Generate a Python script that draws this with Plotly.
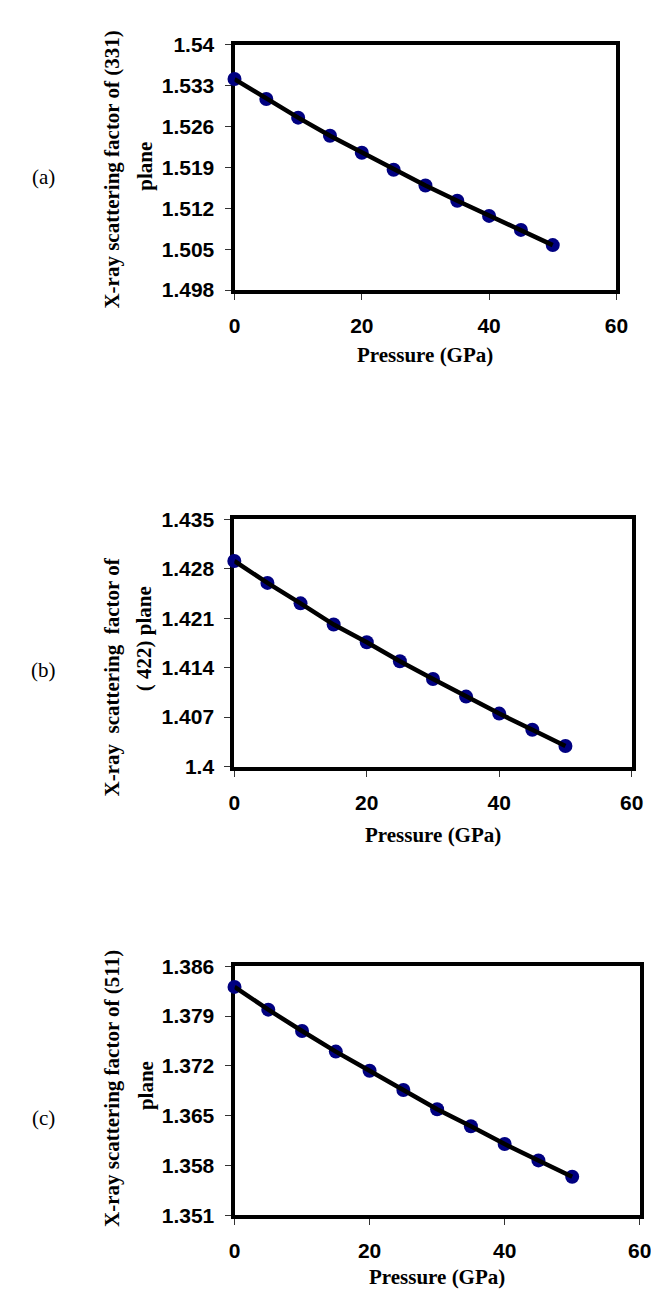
import plotly.graph_objects as go

W, H = 659, 1300

pressure = [0, 5, 10, 15, 20, 25, 30, 35, 40, 45, 50]
f_331 = [1.5341, 1.5307, 1.5275, 1.5244, 1.5215, 1.5186, 1.5159, 1.5133, 1.5107, 1.5083, 1.5057]
f_422 = [1.4291, 1.4260, 1.4231, 1.4201, 1.4176, 1.4149, 1.4124, 1.4099, 1.4075, 1.4052, 1.4029]
f_511 = [1.3831, 1.3799, 1.3769, 1.3740, 1.3713, 1.3686, 1.3659, 1.3635, 1.3610, 1.3587, 1.3564]

x_ticks = [0, 20, 40, 60]
y_ticks_a = [1.498, 1.505, 1.512, 1.519, 1.526, 1.533, 1.54]
y_text_a = ["1.498", "1.505", "1.512", "1.519", "1.526", "1.533", "1.54"]
y_ticks_b = [1.4, 1.407, 1.414, 1.421, 1.428, 1.435]
y_text_b = ["1.4", "1.407", "1.414", "1.421", "1.428", "1.435"]
y_ticks_c = [1.351, 1.358, 1.365, 1.372, 1.379, 1.386]
y_text_c = ["1.351", "1.358", "1.365", "1.372", "1.379", "1.386"]

panel_labels = ["(a)", "(b)", "(c)"]
x_title = "Pressure (GPa)"

# pixel layout: (left, right, top, bottom)
boxes = [
    (226.7, 619.3, 25.0, 275.0),
    (226.5, 635.0, 508.3, 760.0),
    (226.7, 643.3, 963.3, 1216.7),
]

series = [f_331, f_422, f_511]
yt = [(y_ticks_a, y_text_a), (y_ticks_b, y_text_b), (y_ticks_c, y_text_c)]

fig = go.Figure()
tick_font = dict(family="Liberation Sans, Arial", size=21, color="black", weight="bold")
serif_bold = dict(family="Liberation Serif, Times New Roman", size=21, color="black", weight="bold")
serif = dict(family="Liberation Serif, Times New Roman", size=21, color="black")

layout = dict(width=W, height=H, margin=dict(l=0, r=0, t=0, b=0),
              paper_bgcolor="white", plot_bgcolor="white", showlegend=False)

for i, (vals, box, (tv, tt)) in enumerate(zip(series, boxes, yt)):
    n = "" if i == 0 else str(i + 1)
    xa, ya = "x" + n, "y" + n
    fig.add_trace(go.Scatter(x=pressure, y=vals, mode="markers", xaxis=xa, yaxis=ya,
                             marker=dict(size=14, color="#000080"), cliponaxis=False))
    fig.add_trace(go.Scatter(x=pressure, y=vals, mode="lines", xaxis=xa, yaxis=ya,
                             line=dict(color="black", width=4.5), cliponaxis=False))
    l, r, t, b = box
    layout["xaxis" + n] = dict(domain=[l / W, r / W], range=[0, 60], tickvals=x_ticks,
                               anchor=ya, showgrid=False, zeroline=False,
                               showline=True, linewidth=4, linecolor="black", mirror=True,
                               ticks="outside", ticklen=6, tickwidth=1, tickcolor="#333",
                               tickfont=tick_font, layer="below traces", ticklabelstandoff=8)
    layout["yaxis" + n] = dict(domain=[1 - b / H, 1 - t / H], range=[tv[0], tv[-1]],
                               tickvals=tv, ticktext=tt, anchor=xa,
                               showgrid=False, zeroline=False,
                               showline=True, linewidth=4, linecolor="black", mirror=True,
                               ticks="outside", ticklen=6, tickwidth=1, tickcolor="#333",
                               tickfont=tick_font, layer="below traces", ticklabelstandoff=6)

fig.update_layout(**layout)

ann = []
def px(xp, yp, text, font, angle=0):
    ann.append(dict(x=xp / W, y=1 - yp / H, xref="paper", yref="paper", text=text,
                    showarrow=False, font=font, textangle=angle,
                    xanchor="center", yanchor="middle"))

# x titles
px(423, 341, x_title, serif_bold)
px(430.7, 830, x_title, serif_bold)
px(435, 1280, x_title, serif_bold)
# y titles
px(101, 152, "X-ray scattering factor of (331)", serif_bold, -90)
px(135, 149, "plane", serif_bold, -90)
px(101, 669, "X-ray\u00a0 scattering\u00a0 factor of", serif_bold, -90)
px(133, 630, "(\u00a0422) plane", serif_bold, -90)
px(101, 1088, "X-ray scattering factor of (511)", serif_bold, -90)
px(135, 1085, "plane", serif_bold, -90)
# panel labels
px(30, 160, panel_labels[0], serif)
px(30, 662, panel_labels[1], serif)
px(30, 1118, panel_labels[2], serif)

fig.update_layout(annotations=ann)
fig.write_html("out.html")
